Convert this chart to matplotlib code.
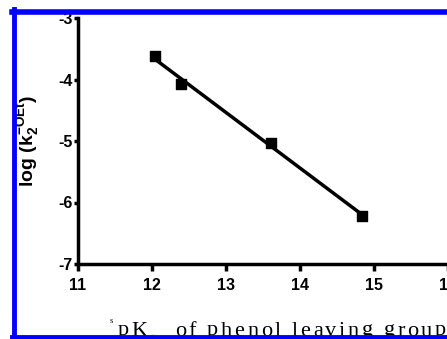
import numpy as np
import matplotlib.pyplot as plt
from matplotlib.lines import Line2D

plt.rcParams['font.family'] = ['Liberation Sans', 'DejaVu Sans']
plt.rcParams['font.weight'] = 'bold'
plt.rcParams['axes.unicode_minus'] = False
plt.rcParams['mathtext.fontset'] = 'custom'
plt.rcParams['mathtext.rm'] = 'Liberation Sans:bold'
plt.rcParams['mathtext.it'] = 'Liberation Sans:bold'
plt.rcParams['mathtext.bf'] = 'Liberation Sans:bold'

# pKa of phenol leaving group vs log(k2)
pka = [12.04, 12.39, 13.61, 14.84]
logk = [-3.62, -4.07, -5.03, -6.22]
xticks = [11, 12, 13, 14, 15, 16]
yticks = [-7, -6, -5, -4, -3]

W, H = 447, 339
fig = plt.figure(figsize=(W / 100, H / 100), dpi=100)
ax = fig.add_axes([78 / W, 1 - 264 / H, 370 / W, 246 / H])

fp = np.polyfit(pka, logk, 1)
fx = np.array([min(pka), max(pka)])
ax.plot(fx, np.polyval(fp, fx), color='black', lw=2.5, zorder=2)
ax.scatter(pka, logk, marker='s', s=50, color='black', zorder=3)

ax.set_xlim(11, 16)
ax.set_ylim(-7, -3)
ax.set_xticks(xticks)
ax.set_yticks(yticks)
ax.spines['top'].set_visible(False)
ax.spines['right'].set_visible(False)
for s in ['left', 'bottom']:
    ax.spines[s].set_linewidth(2.5)
ax.tick_params(axis='x', direction='out', length=5, width=2.5, labelsize=11.5, pad=5)
ax.tick_params(axis='y', direction='out', length=3, width=2.5, labelsize=11.5, pad=1)
fig.text(28 / W, 1 - 141 / H, r'log (k$_2^{-OEt}$)', rotation=90, ha='center', va='center',
         fontsize=14, fontweight='bold')

# x label in serif, letter-spaced, bottom hidden by the frame
serif = dict(family='Liberation Serif', weight='normal', zorder=1, fontsize=16)
fig.text(110 / W, 1 - 323 / H, 's', **dict(serif, fontsize=6))
fig.text(151 / W, 1 - 338 / H, 'a', color='#bbbbbb', **dict(serif, fontsize=6))
fig.canvas.draw()
r = fig.canvas.get_renderer()


def width(s):
    t = fig.text(0, 0, 'x' + s + 'x', **serif)
    w = t.get_window_extent(r).width
    t.remove()
    return w


wx = width('')
for start, end, word in [(118, 148, 'pK'), (175, 446, 'of phenol leaving group')]:
    gap = ((end - start) - (width(word) - wx)) / (len(word) - 1)
    for i, ch in enumerate(word):
        if ch == ' ':
            continue
        x = start + (width(word[:i]) - wx if i else 0) + i * gap
        fig.text(x / W, 1 - 335.5 / H, ch, **serif)

# blue frame (top, left, bottom)
blue = '#0000ff'
frame = dict(color=blue, transform=fig.transFigure, zorder=10)
fig.add_artist(Line2D([12 / W, 1], [1 - 11.5 / H] * 2, lw=4, **frame))
fig.add_artist(Line2D([14 / W] * 2, [1 - 9 / H, 0], lw=3.5, **frame))
fig.add_artist(Line2D([12 / W, 1], [1 - 337 / H] * 2, lw=3.5, **frame))

fig.savefig('out.png', dpi=100)
